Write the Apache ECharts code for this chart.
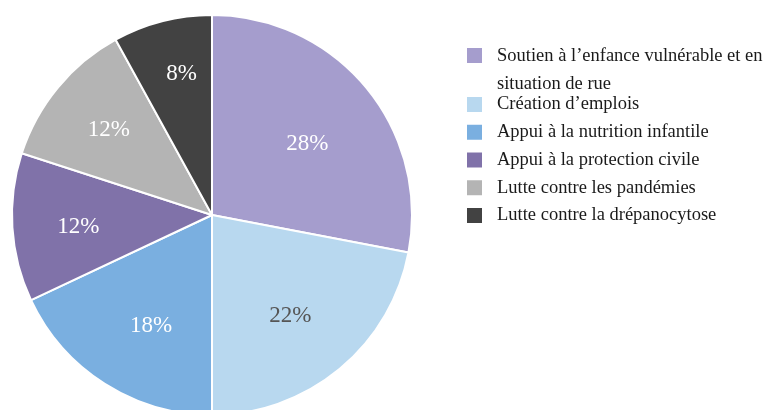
<!DOCTYPE html>
<html>
<head>
<meta charset="utf-8">
<script src="https://cdn.jsdelivr.net/npm/echarts@6/dist/echarts.min.js"></script>
<style>
  html, body { margin: 0; padding: 0; background: #fff; }
  #chart { width: 765px; height: 410px; }
</style>
</head>
<body>
<div id="chart"></div>
<script>
// slices, clockwise from 12 o'clock
const categories = [
  'Soutien à l’enfance vulnérable et en situation de rue',
  'Création d’emplois',
  'Appui à la nutrition infantile',
  'Appui à la protection civile',
  'Lutte contre les pandémies',
  'Lutte contre la drépanocytose'
];
const shares = [28, 22, 18, 12, 12, 8]; // %

const colors = ['#a59dcd', '#b8d8ef', '#7aafe0', '#8072a9', '#b4b4b4', '#424242'];
const labelColors = ['#fff', '#555', '#fff', '#fff', '#fff', '#fff'];
// small nudges of the % labels, as in the original
const labelNudge = [[-8, 14], [-7, -2], [11, -2], [0, 4], [0, 0], [3, -11]];

const font = 'Liberation Serif';
const myChart = echarts.init(document.getElementById('chart'));

const pieData = categories.map((name, i) => ({
  name: name,
  value: shares[i],
  itemStyle: { color: colors[i] }
}));

// legend text: first entry wraps on two lines
const legendText = {
  fontFamily: font,
  fontSize: 18.5,
  color: '#1a1a1a',
  padding: [0, 0, 0, 9]
};

myChart.setOption({
  backgroundColor: '#fff',
  animation: false,
  legend: [
    {
      orient: 'vertical',
      left: 465,
      top: 46,
      padding: 0,
      itemWidth: 17,
      itemHeight: 17,
      icon: 'rect',
      selectedMode: false,
      data: [categories[0]],
      formatter: name => '{t|' + name.replace(' situation', '\nsituation') + '}',
      textStyle: Object.assign({}, legendText, {
        height: 27,
        rich: { t: { fontFamily: font, fontSize: 18.5, lineHeight: 28, color: '#1a1a1a' } }
      })
    },
    {
      orient: 'vertical',
      left: 465,
      top: 95,
      padding: 0,
      itemGap: 8.75,
      itemWidth: 17,
      itemHeight: 17,
      icon: 'rect',
      selectedMode: false,
      data: categories.slice(1),
      textStyle: legendText
    }
  ],
  series: [
    {
      // slices
      type: 'pie',
      center: [212, 215],
      radius: [0, 200],
      startAngle: 90,
      clockwise: true,
      avoidLabelOverlap: false,
      silent: true,
      itemStyle: { borderColor: '#fff', borderWidth: 2 },
      label: { show: false },
      labelLine: { show: false },
      data: pieData
    },
    {
      // transparent ring only used to place the % labels further out
      type: 'pie',
      center: [212, 215],
      radius: [62, 200],
      startAngle: 90,
      clockwise: true,
      avoidLabelOverlap: false,
      silent: true,
      itemStyle: { color: 'rgba(0,0,0,0)', borderWidth: 0 },
      label: {
        show: true,
        position: 'inside',
        formatter: '{c}%',
        fontFamily: font,
        fontSize: 23
      },
      labelLine: { show: false },
      data: categories.map((name, i) => ({
        name: name,
        value: shares[i],
        label: { color: labelColors[i], offset: labelNudge[i] }
      }))
    }
  ]
});
</script>
</body>
</html>
